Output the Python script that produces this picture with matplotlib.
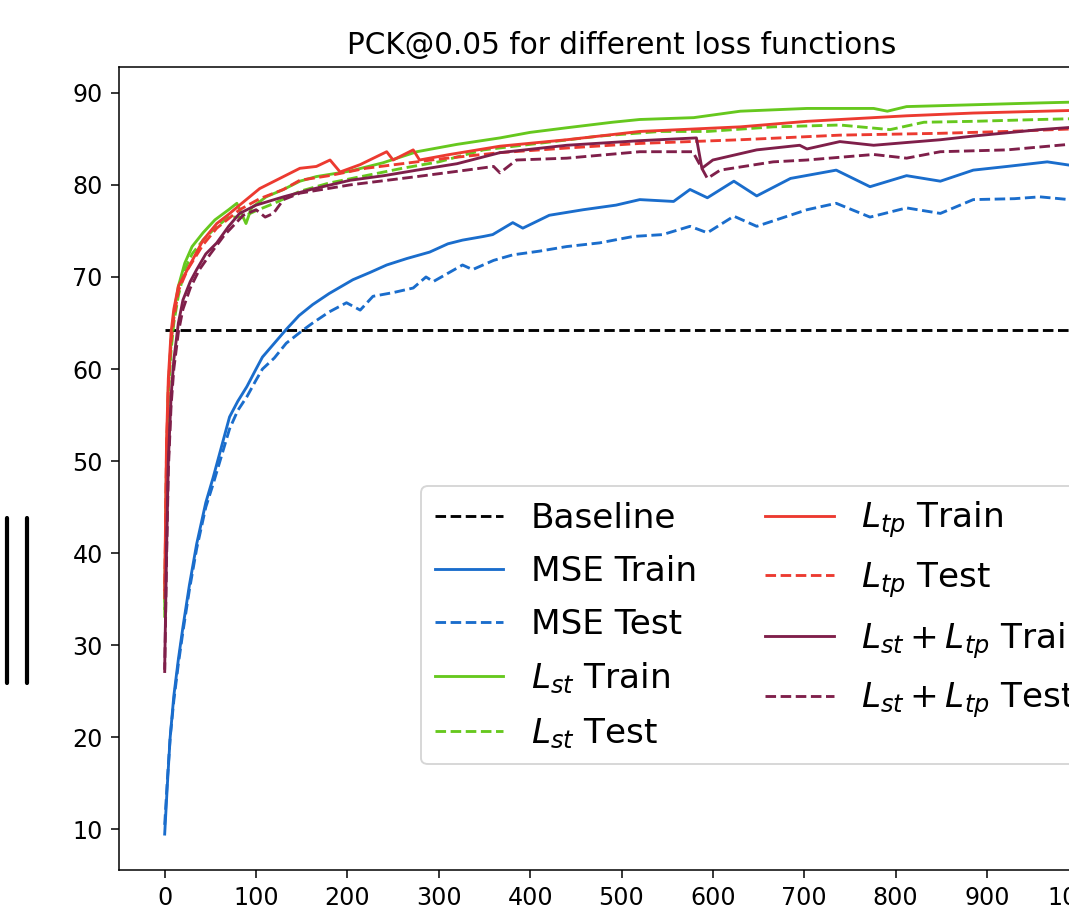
import matplotlib
matplotlib.use("Agg")
import matplotlib.pyplot as plt
from matplotlib.lines import Line2D

# ---------------- data ----------------
baseline_value = 64.2
baseline_x = [0, 1000]

mse_train_x = [0, 3, 6, 10, 15, 20, 27, 35, 45, 53, 62, 71, 80, 90, 100, 107, 120, 133, 147, 162, 180, 206, 225, 243,
               265, 290, 310, 326, 349, 359, 381, 392, 421, 458, 494, 520, 557, 575, 594, 623, 648, 685, 735, 772,
               812, 849, 885, 922, 966, 1000]
mse_train_y = [9.5, 15, 20, 24.5, 28.5, 32, 36.5, 41, 45.5, 48.2, 51.5, 54.8, 56.5, 58.1, 60.0, 61.3, 62.8, 64.3, 65.8,
               67.0, 68.2, 69.7, 70.5, 71.3, 72.0, 72.7, 73.6, 74.0, 74.4, 74.6, 75.9, 75.3, 76.7, 77.3, 77.8, 78.4,
               78.2, 79.5, 78.6, 80.4, 78.8, 80.7, 81.6, 79.8, 81.0, 80.4, 81.6, 82.0, 82.5, 82.0]

mse_test_x = [0, 3, 6, 10, 15, 20, 27, 35, 45, 53, 62, 71, 80, 90, 100, 107, 120, 133, 151, 162, 180, 199, 214, 228,
              250, 272, 286, 294, 326, 337, 360, 381, 410, 440, 476, 513, 545, 575, 594, 623, 648, 703, 735, 772,
              812, 849, 885, 930, 958, 990, 1000]
mse_test_y = [10.5, 15.5, 20, 24, 28, 31.5, 36, 40.5, 45, 47.5, 50.5, 53.5, 55.5, 57.0, 58.8, 60.0, 61.2, 62.8, 64.2,
              65.0, 66.2, 67.2, 66.4, 67.9, 68.3, 68.8, 70.0, 69.5, 71.3, 70.8, 71.8, 72.4, 72.8, 73.3, 73.7, 74.4,
              74.6, 75.5, 74.8, 76.6, 75.5, 77.3, 78.0, 76.5, 77.5, 76.9, 78.4, 78.5, 78.7, 78.4, 78.2]

lst_train_x = [0, 2, 4, 7, 10, 15, 22, 30, 42, 55, 70, 79, 89, 95, 111, 130, 148, 166, 203, 239, 276, 320, 367, 400,
               440, 490, 520, 579, 630, 703, 776, 791, 812, 885, 958, 1000]
lst_train_y = [34, 50, 58, 63, 66, 69, 71.5, 73.3, 74.8, 76.2, 77.3, 78.0, 75.8, 77.5, 78.7, 79.5, 80.4, 80.9, 81.5,
               82.4, 83.6, 84.4, 85.1, 85.7, 86.2, 86.8, 87.1, 87.3, 88.0, 88.3, 88.3, 88.0, 88.5, 88.7, 88.9, 89.0]

lst_test_x = [0, 2, 4, 7, 10, 15, 22, 30, 42, 55, 70, 85, 100, 120, 148, 180, 220, 260, 300, 349, 400, 476, 542, 594,
              666, 739, 794, 831, 885, 958, 1000]
lst_test_y = [33, 48, 57, 62, 65, 68, 70.8, 72.5, 74.0, 75.3, 76.5, 76.5, 77.2, 78.0, 79.3, 80.2, 81.0, 81.8, 82.5,
              83.8, 84.4, 85.3, 85.8, 85.8, 86.3, 86.5, 86.0, 86.8, 86.9, 87.1, 87.2]

ltp_train_x = [0, 2, 4, 7, 10, 15, 26, 42, 57, 70, 82, 104, 130, 148, 166, 181, 192, 214, 243, 250, 272, 279, 312,
               367, 440, 520, 630, 703, 812, 885, 1000]
ltp_train_y = [36, 52, 59, 64, 66.5, 69, 71.0, 74.0, 75.8, 76.8, 77.8, 79.6, 80.9, 81.8, 82.0, 82.7, 81.4, 82.2, 83.6,
               82.7, 83.8, 82.7, 83.3, 84.2, 84.9, 85.8, 86.3, 86.9, 87.5, 87.8, 88.1]

ltp_test_x = [0, 2, 4, 7, 10, 15, 25, 42, 57, 82, 104, 130, 148, 180, 220, 260, 300, 367, 440, 520, 630, 739, 849,
              922, 1000]
ltp_test_y = [35, 51, 58, 63, 65.5, 68.5, 70.8, 73.5, 75.3, 77.3, 78.5, 79.5, 80.5, 81.0, 81.8, 82.3, 82.8, 83.5,
              84.0, 84.5, 84.9, 85.4, 85.6, 85.8, 86.1]

both_train_x = [0, 2, 4, 7, 10, 15, 20, 28, 35, 45, 57, 70, 82, 100, 130, 160, 203, 240, 276, 320, 367, 440, 520,
                582, 588, 600, 648, 695, 703, 739, 776, 812, 849, 885, 958, 1000]
both_train_y = [27.5, 40, 50, 57, 61, 65, 67.5, 69.5, 70.8, 72.5, 73.7, 75.5, 76.9, 77.8, 78.7, 79.5, 80.5, 81.0,
                81.6, 82.3, 83.5, 84.3, 84.8, 85.1, 81.8, 82.7, 83.8, 84.3, 83.9, 84.7, 84.3, 84.6, 84.9, 85.3,
                86.0, 86.3]

both_test_x = [0, 2, 4, 7, 10, 15, 20, 28, 38, 50, 65, 86, 100, 110, 119, 130, 148, 203, 276, 330, 360, 367, 385,
               440, 520, 578, 594, 608, 666, 703, 776, 812, 849, 922, 990, 1000]
both_test_y = [27, 39, 49, 56, 60, 64, 66.5, 68.8, 70.8, 72.5, 74.5, 76.7, 77.3, 76.5, 76.9, 78.4, 79.1, 80.0, 80.9,
               81.6, 82.0, 81.3, 82.7, 82.9, 83.6, 83.6, 80.7, 81.6, 82.5, 82.7, 83.3, 82.9, 83.6, 83.8, 84.4, 84.5]

labels = ["Baseline", "MSE Train", "MSE Test", r"$L_{st}$ Train", r"$L_{st}$ Test",
          r"$L_{tp}$ Train", r"$L_{tp}$ Test", r"$L_{st} + L_{tp}$ Train", r"$L_{st} + L_{tp}$ Test"]

# ---------------- style ----------------
c_blue = "#1a6dcc"
c_green = "#66c81e"
c_red = "#ec3a30"
c_maroon = "#7f1f4a"

DPI = 137
fig = plt.figure(figsize=(1069 / DPI, 905 / DPI), dpi=DPI)
W, H = 1069, 905
ax_l, ax_r, ax_t, ax_b = 119, 1124, 67, 870
ax = fig.add_axes([ax_l / W, 1 - ax_b / H, (ax_r - ax_l) / W, (ax_b - ax_t) / H])

ax.plot(baseline_x, [baseline_value, baseline_value], "--", color="black", label=labels[0])
ax.plot(mse_train_x, mse_train_y, "-", color=c_blue, label=labels[1])
ax.plot(mse_test_x, mse_test_y, "--", color=c_blue, label=labels[2])
ax.plot(lst_train_x, lst_train_y, "-", color=c_green, label=labels[3])
ax.plot(lst_test_x, lst_test_y, "--", color=c_green, label=labels[4])
ax.plot(ltp_train_x, ltp_train_y, "-", color=c_red, label=labels[5])
ax.plot(ltp_test_x, ltp_test_y, "--", color=c_red, label=labels[6])
ax.plot(both_train_x, both_train_y, "-", color=c_maroon, label=labels[7])
ax.plot(both_test_x, both_test_y, "--", color=c_maroon, label=labels[8])

ax.set_xlim(-50, 1050)
ax.set_ylim(5.6, 92.8)
ax.set_xticks(range(0, 1001, 100))
ax.set_yticks(range(10, 91, 10))
ax.tick_params(labelsize=12.5, length=4, pad=4.5)
ax.set_title("PCK@0.05 for different loss functions", fontsize=15.5, pad=7)

ax.legend(ncol=2, fontsize=18, loc="upper left", labelspacing=0.58,
          bbox_to_anchor=((421 - ax_l) / (ax_r - ax_l), (ax_b - 486) / (ax_b - ax_t)),
          borderaxespad=0)

# two vertical black bars at the left edge of the screenshot
for xp in (7, 27):
    fig.add_artist(Line2D([xp / W, xp / W], [1 - 518 / H, 1 - 683 / H], color="black",
                          linewidth=2.2, solid_capstyle="round"))

fig.savefig("out.png", dpi=DPI)
